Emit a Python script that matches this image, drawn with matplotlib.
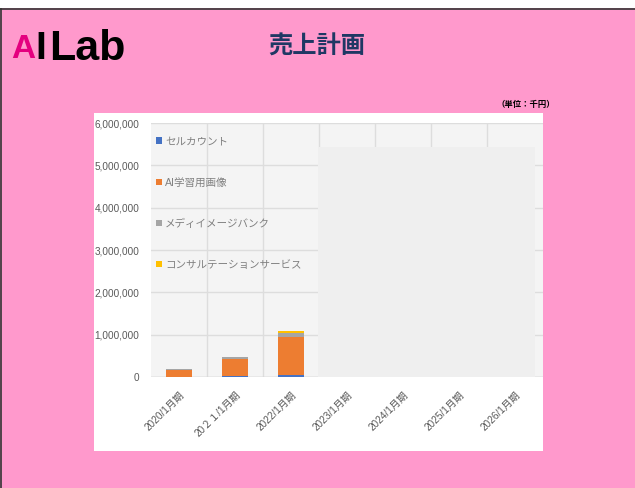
import numpy as np
import matplotlib.pyplot as plt
from matplotlib.patches import Rectangle
from matplotlib.lines import Line2D
from matplotlib.ticker import FuncFormatter

plt.rcParams['font.family'] = ['Liberation Sans', 'Noto Sans CJK JP', 'DejaVu Sans']

# データ（単位：千円）
periods = ['2020/1月期', '20２１/1月期', '2022/1月期', '2023/1月期',
           '2024/1月期', '2025/1月期', '2026/1月期']
series_names = ['セルカウント', 'AI学習用画像', 'メディイメージバンク', 'コンサルテーションサービス']
cell_count = [5000, 15000, 40000, 0, 0, 0, 0]
ai_images = [170000, 410000, 900000, 0, 0, 0, 0]
medi_bank = [5000, 55000, 95000, 0, 0, 0, 0]
consulting = [0, 0, 50000, 0, 0, 0, 0]
yticks = [0, 1000000, 2000000, 3000000, 4000000, 5000000, 6000000]

colors = ['#4472C4', '#ED7D31', '#A5A5A5', '#FFC000']
W, H = 635, 488

fig = plt.figure(figsize=(W / 100, H / 100), dpi=100)
fig.patch.set_facecolor('#FF99CC')

# 上の白い帯と枠線
fig.patches.append(Rectangle((0, 1 - 8 / H), 1, 8 / H, transform=fig.transFigure,
                             facecolor='white', edgecolor='none', zorder=-2))
fig.lines.append(Line2D([0, 1], [1 - 8.5 / H] * 2, transform=fig.transFigure,
                        color='#333333', lw=1.2, zorder=-1))
fig.lines.append(Line2D([0.5 / W] * 2, [0, 1 - 8.5 / H], transform=fig.transFigure,
                        color='#333333', lw=1.2, zorder=-1))

# グラフエリア（白）
fig.patches.append(Rectangle((94 / W, 1 - 451 / H), (543 - 94) / W, (451 - 113) / H,
                             transform=fig.transFigure, facecolor='white',
                             edgecolor='none', zorder=-2))

# ロゴとタイトル
fig.text(11 / W, 1 - 49 / H, 'A', color='#E4007F', fontsize=24, fontweight='bold',
         va='center', ha='left', family='Liberation Sans')
fig.text(35 / W, 1 - 49 / H, 'I', color='black', fontsize=28, fontweight='bold',
         va='center', ha='left', family='Liberation Sans')
fig.text(49 / W, 1 - 49 / H, 'Lab', color='black', fontsize=31, fontweight='bold',
         va='center', ha='left', family='Liberation Sans')
fig.text(317 / W, 1 - 47 / H, '売上計画', color='#1F3864', fontsize=17.5,
         fontweight='bold', va='center', ha='center')
fig.text(555 / W, 1 - 105 / H, '（単位：千円）', color='black', fontsize=6,
         fontweight='bold', va='center', ha='right')

ax = fig.add_axes([151 / W, 1 - 377 / H, 392 / W, 254 / H])
ax.set_zorder(1)
ax.set_facecolor('#F4F4F4')

x = np.arange(len(periods))
values = [cell_count, ai_images, medi_bank, consulting]
bottom = np.zeros(len(periods))
for name, vals, c in zip(series_names, values, colors):
    ax.bar(x, vals, width=0.46, bottom=bottom, color=c, label=name, zorder=3)
    bottom += np.array(vals)

ax.set_xlim(-0.5, len(periods) - 0.5)
ax.set_ylim(0, 6000000)
ax.set_yticks(yticks)
ax.yaxis.set_major_formatter(FuncFormatter(lambda v, p: '{:,.0f}'.format(v)))
ax.set_xticks(x)
ax.set_xticklabels(periods, rotation=45, ha='right', rotation_mode='anchor')
ax.tick_params(axis='both', length=0, colors='#595959', labelsize=7.2)
ax.tick_params(axis='y', pad=8.5)
ax.tick_params(axis='x', pad=9)

# 横グリッドとカテゴリ境界の縦線
ax.grid(axis='y', color='#DDDDDD', lw=1, zorder=1)
for b in np.arange(0.5, len(periods) - 0.5, 1):
    ax.axvline(b, color='#DDDDDD', lw=1, zorder=1)
for s in ax.spines.values():
    s.set_visible(False)
ax.axhline(0, color='#D0D0D0', lw=1, zorder=2)

# 右側の灰色の重ね図形
ax.add_patch(Rectangle((0.426, 0), 0.554, 0.906, transform=ax.transAxes,
                       facecolor='#EFEFEF', edgecolor='none', zorder=2))

leg = ax.legend(loc='upper left', bbox_to_anchor=(-0.012, 0.985), frameon=False,
                fontsize=7.6, labelspacing=2.95, handlelength=0.55, handleheight=0.55,
                handletextpad=0.35, labelcolor='#808080')

fig.savefig('out.png', dpi=100, facecolor=fig.get_facecolor())
